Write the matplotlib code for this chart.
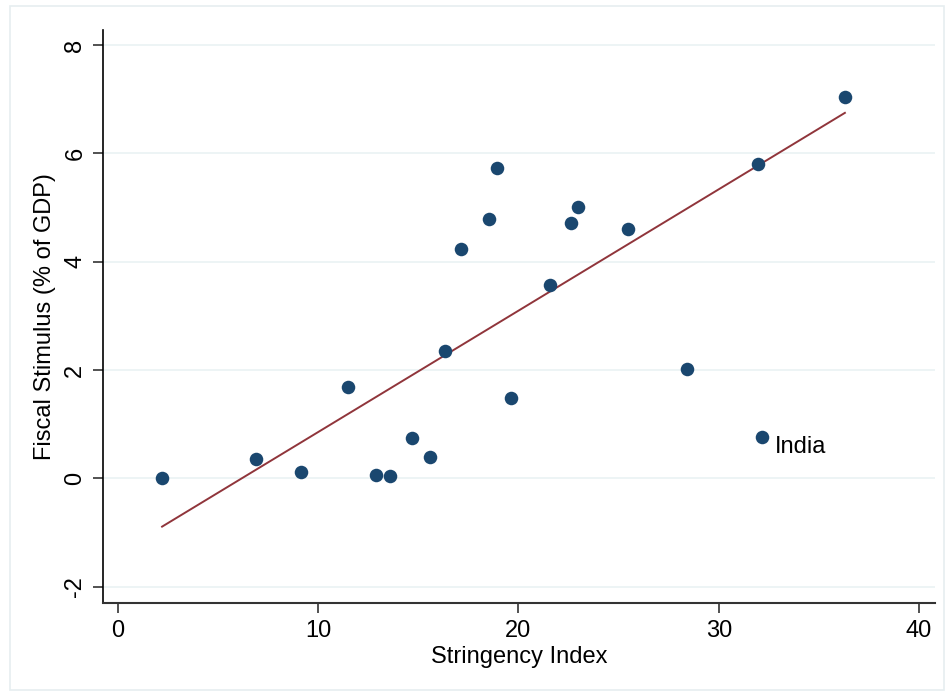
import numpy as np
import matplotlib
matplotlib.use("Agg")
import matplotlib.pyplot as plt
from matplotlib.patches import Rectangle

plt.rcParams['font.family'] = ['Liberation Sans', 'DejaVu Sans']
plt.rcParams['axes.unicode_minus'] = False

stringency = [2.20, 6.89, 9.14, 11.49, 12.88, 13.58, 14.68, 15.58, 16.33, 17.13,
              18.53, 18.93, 19.63, 21.57, 22.62, 22.97, 25.47, 28.41, 31.96, 32.16, 36.30]
stimulus = [0.00, 0.36, 0.12, 1.69, 0.07, 0.05, 0.75, 0.40, 2.35, 4.24,
            4.79, 5.74, 1.49, 3.57, 4.72, 5.01, 4.61, 2.02, 5.81, 0.76, 7.04]
labels = [""] * 19 + ["India", ""]

# fitted line endpoints
fit_x = [2.20, 36.30]
fit_y = [-0.89, 6.75]

x_ticks = [0, 10, 20, 30, 40]
y_ticks = [-2, 0, 2, 4, 6, 8]

W, H = 948, 694
fig = plt.figure(figsize=(W / 100, H / 100), dpi=100)
fig.patches.append(Rectangle((10 / W, 4 / H), (W - 14) / W, (H - 10) / H,
                             transform=fig.transFigure, fill=False,
                             edgecolor='#e6eef0', linewidth=1.2))
ax = fig.add_axes([103 / W, 1 - 603 / H, (935 - 103) / W, (603 - 30) / H])

ax.plot(fit_x, fit_y, color='#90353b', linewidth=1.4, zorder=2)
ax.scatter(stringency, stimulus, s=95, color='#1a476f', zorder=3, linewidths=0)
for xi, yi, lab in zip(stringency, stimulus, labels):
    if lab:
        ax.annotate(lab, (xi, yi), xytext=(9, -7), textcoords='offset points',
                    fontsize=17, va='center', ha='left', color='black')

ax.set_xlim(-0.75, 40.8)
ax.set_ylim(-2.3, 8.28)
ax.set_xticks(x_ticks)
ax.set_yticks(y_ticks)
for t in y_ticks:
    ax.axhline(t, color='#eaf2f3', linewidth=1.2, zorder=0)
ax.spines['top'].set_visible(False)
ax.spines['right'].set_visible(False)
ax.spines['left'].set_color('black')
ax.spines['bottom'].set_color('#333333')
ax.spines['left'].set_linewidth(1.2)
ax.spines['bottom'].set_linewidth(1.5)
ax.tick_params(axis='both', labelsize=17, length=7, width=1.2, color='#333333', pad=5)
plt.setp(ax.get_yticklabels(), rotation=90, va='center')
ax.set_xlabel('Stringency Index', fontsize=17, labelpad=3)
ax.set_ylabel('Fiscal Stimulus (% of GDP)', fontsize=17, labelpad=6)

fig.savefig('out.png', dpi=100)
